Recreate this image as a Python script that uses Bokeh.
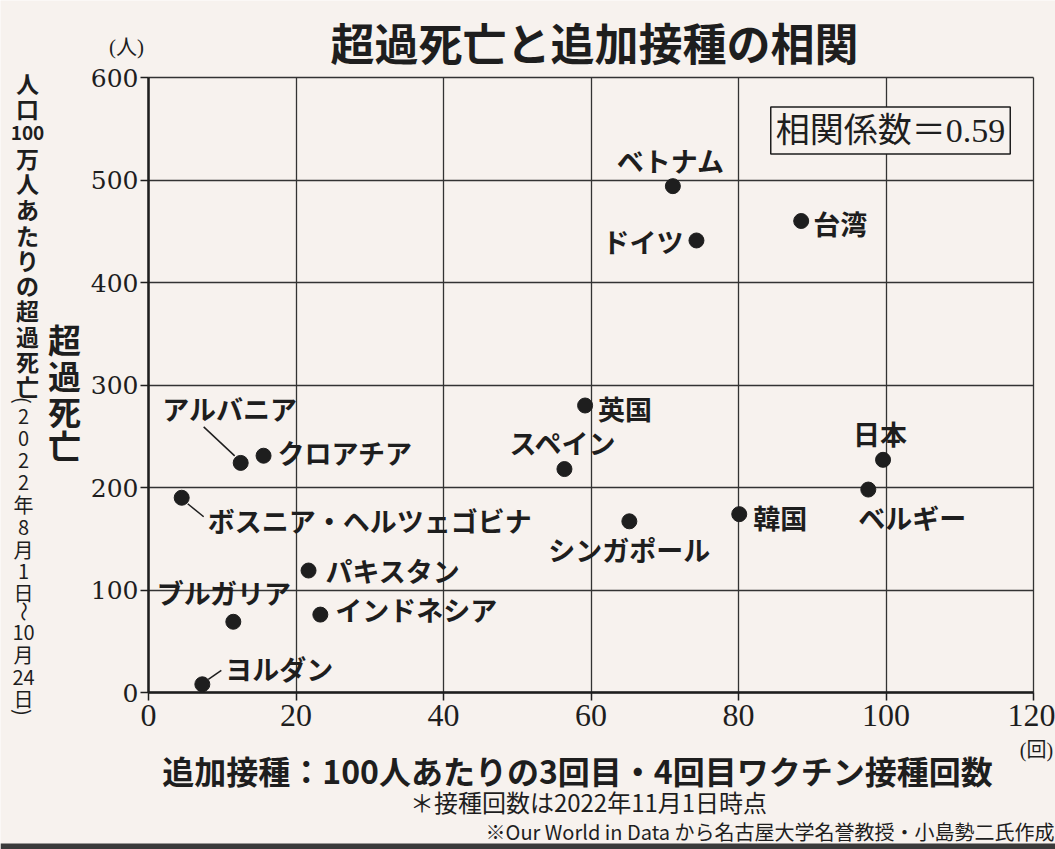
import math
from bokeh.plotting import figure
from bokeh.models import Label, LabelSet, ColumnDataSource, Range1d, FixedTicker, Grid, BoxAnnotation
from bokeh.core.properties import value
from bokeh.embed import file_html
from bokeh.resources import INLINE

# ---------------- data ----------------
countries = ["ベトナム", "ドイツ", "台湾", "英国", "スペイン", "日本", "ベルギー", "韓国",
             "シンガポール", "アルバニア", "クロアチア", "ボスニア・ヘルツェゴビナ",
             "パキスタン", "ブルガリア", "インドネシア", "ヨルダン"]
booster = [71.1, 74.3, 88.5, 59.2, 56.4, 99.6, 97.6, 80.1,
           65.2, 12.5, 15.6, 4.5, 21.7, 11.5, 23.3, 7.3]
excess = [494, 441, 460, 280, 218, 227, 198, 174,
          167, 224, 231, 190, 119, 69, 76, 8]
x_ticks = [0, 20, 40, 60, 80, 100, 120]
y_ticks = [0, 100, 200, 300, 400, 500, 600]
corr_text = "相関係数＝0.59"

# ---------------- label styling (screen offsets, px) ----------------
lab_dx = [-2, -13, 12, 13, -1, -3, 44, 14, 0, -11, 14, 26, 17, -9, 15, 23]
lab_dy = [26, -1, -2, -3, 27, 26, -28, -3, -28, 54, 3, -23, 0, 29, 5, 16]
lab_align = ["center", "right", "left", "left", "center", "center", "center", "left",
             "center", "center", "left", "left", "left", "center", "left", "left"]
# leader lines: (index, start dx, start dy, end dx, end dy) in px
leaders = [(9, -6, 7, -37, 36), (11, 6, -6, 22, -19), (15, 6, 5, 19, 14)]

PAPER = "#f7f2ee"
INK = "#1e1e1e"
JP = "Noto Sans CJK JP"
SERIF_JP = "Liberation Serif, Noto Sans CJK JP"

# geometry of the plotting region in canvas px (frame covers whole canvas)
W, H = 1055, 849
FL, FR, FT, FB = 148, 1033, 77, 692
XMAX, YMAX = 120, 600
SX = XMAX / (FR - FL)
SY = YMAX / (FB - FT)


def X(px):
    return (px - FL) * SX


def Y(py):
    return (FB - py) * SY


p = figure(width=W, height=H, output_backend="svg", toolbar_location=None,
           x_range=Range1d(X(0), X(W)), y_range=Range1d(Y(H), Y(0)), min_border=0)
p.background_fill_color = PAPER
p.border_fill_color = PAPER
p.outline_line_color = None

# axes fixed at data zero, bounded to the plotting region
p.xaxis.fixed_location = 0
p.yaxis.fixed_location = 0
p.xaxis.bounds = (0, XMAX)
p.yaxis.bounds = (0, YMAX)
p.xaxis.ticker = FixedTicker(ticks=x_ticks)
p.yaxis.ticker = FixedTicker(ticks=y_ticks)
for ax in (p.xaxis, p.yaxis):
    ax.axis_line_color = INK
    ax.axis_line_width = 2.5
    ax.major_tick_line_color = INK
    ax.major_tick_line_width = 1.5
    ax.major_tick_in = 0
    ax.major_tick_out = 8
    ax.minor_tick_line_color = None
    ax.major_label_text_color = INK
p.yaxis.major_label_text_font = "DejaVu Serif"
p.yaxis.major_label_text_font_size = "25px"
p.yaxis.major_label_standoff = 2
p.xaxis.major_label_text_font = "Liberation Serif"
p.xaxis.major_label_text_font_size = "32px"
p.xaxis.major_label_standoff = 4

# grid (restricted to the plotting region)
p.xgrid.ticker = FixedTicker(ticks=x_ticks)
p.ygrid.ticker = FixedTicker(ticks=y_ticks)
has_cross = "cross_bounds" in Grid.properties()
if has_cross:
    p.xgrid.bounds = (0, XMAX)
    p.ygrid.bounds = (0, YMAX)
    p.xgrid.cross_bounds = (0, YMAX)
    p.ygrid.cross_bounds = (0, XMAX)
    for g in (p.xgrid, p.ygrid):
        g.grid_line_color = "#333333"
        g.grid_line_width = 1.3
        g.grid_line_alpha = 1.0
else:
    p.xgrid.grid_line_color = None
    p.ygrid.grid_line_color = None
    p.segment(x0=x_ticks, y0=[0] * len(x_ticks), x1=x_ticks, y1=[YMAX] * len(x_ticks),
              line_color="#333333", line_width=1.3)
    p.segment(x0=[0] * len(y_ticks), y0=y_ticks, x1=[XMAX] * len(y_ticks), y1=y_ticks,
              line_color="#333333", line_width=1.3)

# points
p.scatter(booster, excess, size=15, color=INK)

# leader lines
lx0, ly0, lx1, ly1 = [], [], [], []
for i, a, b, c, d in leaders:
    lx0.append(booster[i] + a * SX)
    ly0.append(excess[i] + b * SY)
    lx1.append(booster[i] + c * SX)
    ly1.append(excess[i] + d * SY)
p.segment(lx0, ly0, lx1, ly1, line_color=INK, line_width=1.5)

src = ColumnDataSource(dict(x=booster, y=excess, t=countries, dx=lab_dx, dy=lab_dy,
                            al=lab_align))
p.add_layout(LabelSet(x="x", y="y", text="t", source=src, x_offset="dx", y_offset="dy",
                      text_align="al", text_baseline="middle",
                      text_font=value(JP), text_font_style="bold",
                      text_font_size=value("27px"), text_color=INK))


def lab(px, py, text, size, bold=False, font=JP, align="center", angle=0, **kw):
    p.add_layout(Label(x=X(px), y=Y(py), text=text, text_font=font,
                       text_font_size=size, text_font_style="bold" if bold else "normal",
                       text_align=align, text_baseline="middle", text_color=INK,
                       angle=angle, **kw))


# title
lab(594, 41, "超過死亡と追加接種の相関", "44px", bold=True)

# correlation box
lab(890, 130, corr_text, "34px", font=SERIF_JP,
    border_line_color=INK, border_line_width=1.5, background_fill_color=PAPER,
    padding=5)

# units
lab(126, 46, "(人)", "21px", font=SERIF_JP)
lab(1036, 749, "(回)", "20px", font=SERIF_JP)

# x axis title and notes
lab(577, 769, "追加接種：100人あたりの3回目・4回目ワクチン接種回数", "32px", bold=True)
lab(588, 801, "＊接種回数は2022年11月1日時点", "24px")
lab(1054, 831, "※Our World in Data から名古屋大学名誉教授・小島勢二氏作成", "20px", align="right")

# vertical y-axis title (tategaki)
main_tokens = ["人", "口", "100", "万", "人", "あ", "た", "り", "の", "超", "過", "死", "亡"]
main_y = [82, 107, 132, 157, 182, 208, 234, 259, 284, 309, 335, 360, 385]
for t, yy in zip(main_tokens, main_y):
    lab(27, yy, t, "19px" if t.isdigit() else "23px", bold=True)
sub_tokens = ["(", "2", "0", "2", "2", "年", "8", "月", "1", "日", "～", "10", "月", "24", "日", ")"]
sub_y = [400, 416, 438, 460, 482, 504, 527, 549, 571, 592, 611, 632, 654, 677, 698, 712]
for t, yy in zip(sub_tokens, sub_y):
    ang = 0
    if t in "()":
        ang = -math.pi / 2
    elif t == "～":
        ang = math.pi / 2
    lab(23, yy, t, "20px", angle=ang)

big_tokens = ["超", "過", "死", "亡"]
big_y = [338, 374, 410, 444]
for t, yy in zip(big_tokens, big_y):
    lab(64, yy, t, "33px", bold=True)

# dark page edge at the bottom
p.add_layout(BoxAnnotation(bottom=Y(H), top=Y(843), fill_color="#3a3a3a", fill_alpha=1.0,
                           line_color=None))

open("out.html", "w").write(file_html(p, INLINE))
